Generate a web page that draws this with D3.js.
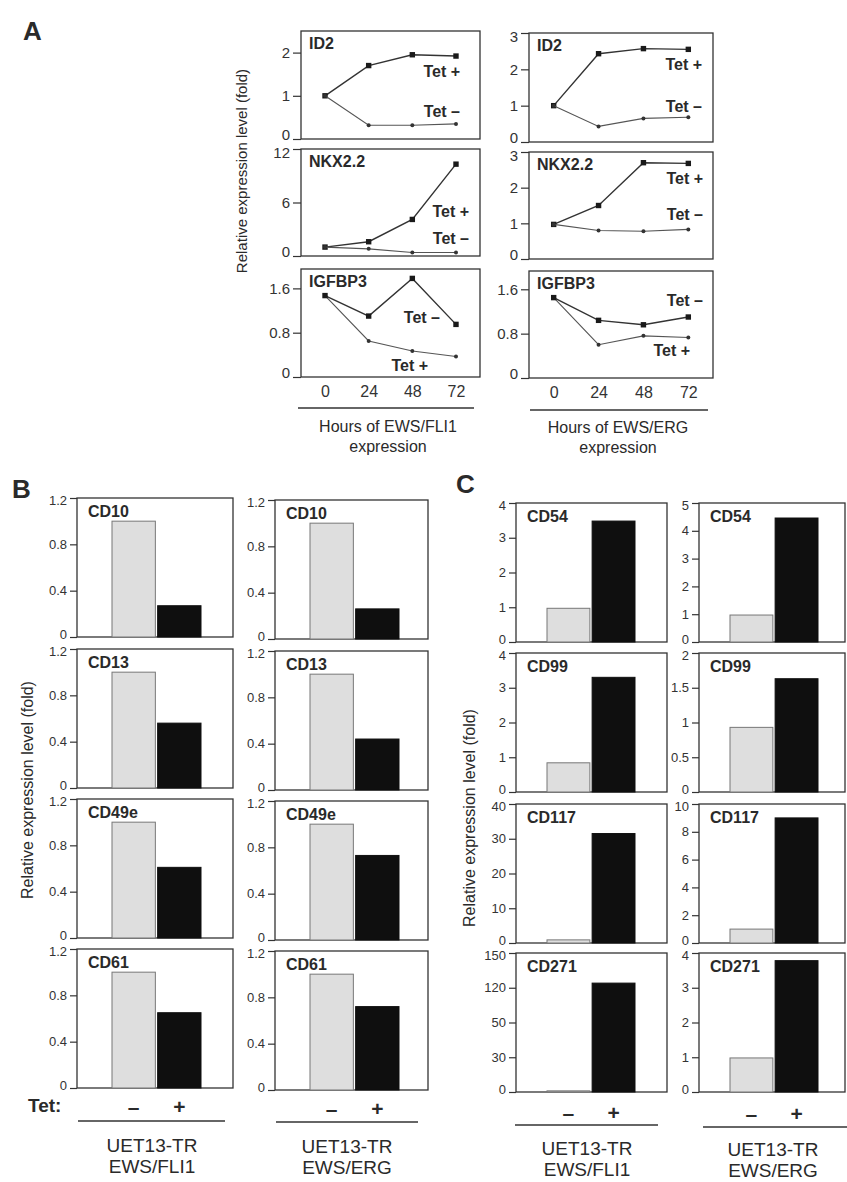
<!DOCTYPE html>
<html>
<head>
<meta charset="utf-8">
<script src="https://cdn.jsdelivr.net/npm/d3@7"></script>
<style>
  body { margin: 0; background: #fff; }
  svg { display: block; }
</style>
</head>
<body>
<svg id="fig" width="847" height="1182"></svg>
<script>
// ---- data ----
const hours = [0, 24, 48, 72];

// panel A, EWS/FLI1
const fliId2Plus = [1, 1.7, 1.95, 1.92];
const fliId2Minus = [1, 0.32, 0.32, 0.35];
const fliNkxPlus = [1, 1.6, 4.1, 10.3];
const fliNkxMinus = [1, 0.8, 0.4, 0.4];
const fliIgfPlus = [1.47, 0.65, 0.47, 0.37];
const fliIgfMinus = [1.47, 1.1, 1.78, 0.95];
// panel A, EWS/ERG
const ergId2Plus = [1, 2.43, 2.57, 2.55];
const ergId2Minus = [1, 0.43, 0.65, 0.68];
const ergNkxPlus = [0.97, 1.5, 2.7, 2.68];
const ergNkxMinus = [0.97, 0.8, 0.78, 0.83];
const ergIgfPlus = [1.45, 0.6, 0.76, 0.73];
const ergIgfMinus = [1.45, 1.04, 0.96, 1.1];

const tetGroups = ['–', '+'];

// panel B
const bMarkers = ['CD10', 'CD13', 'CD49e', 'CD61'];
const bTicks = [0, 0.4, 0.8, 1.2];
const bFliMinus = [1.0, 1.0, 1.0, 1.0];
const bFliPlus = [0.27, 0.56, 0.61, 0.65];
const bErgMinus = [1.0, 1.0, 1.0, 1.0];
const bErgPlus = [0.26, 0.44, 0.73, 0.72];

// panel C
const cMarkers = ['CD54', 'CD99', 'CD117', 'CD271'];
const cFliTicks = [[0, 1, 2, 3, 4], [0, 1, 2, 3, 4], [0, 10, 20, 30, 40], [0, 30, 50, 120, 150]];
const cErgTicks = [[0, 1, 2, 3, 4, 5], [0, 0.5, 1, 1.5, 2], [0, 2, 4, 6, 8, 10], [0, 1, 2, 3, 4]];
const cFliMinus = [0.97, 0.84, 0.9, 1];
const cFliPlus = [3.48, 3.3, 31.5, 124];
const cErgMinus = [0.97, 0.93, 1.0, 0.98];
const cErgPlus = [4.46, 1.63, 9.0, 3.78];

// ---- drawing ----
const font = '"Liberation Sans", Arial, Helvetica, sans-serif';
const ink = '#2a2a2a';
const svg = d3.select('#fig').style('font-family', font);

function txt(x, y, s, size, opts = {}) {
  return svg.append('text')
    .attr('x', x).attr('y', y)
    .attr('font-size', size)
    .attr('font-weight', opts.bold ? 'bold' : 'normal')
    .attr('text-anchor', opts.anchor || 'start')
    .attr('fill', ink)
    .attr('transform', opts.rotate ? `rotate(-90,${x},${y})` : null)
    .text(s);
}

// nudge the end labels so stacked panels don't collide
function styleAxis(ax, size, nudge, topAtEdge) {
  ax.select('.domain').remove();
  ax.selectAll('line').attr('stroke', '#333').attr('stroke-width', 1.2);
  const t = ax.selectAll('text').attr('font-size', size).attr('fill', '#333').attr('font-family', font);
  if (nudge) {
    const n = t.size();
    t.filter((d, i) => i === 0).attr('y', -nudge);
    if (topAtEdge) t.filter((d, i) => i === n - 1).attr('y', nudge);
  }
}

function linePanel(p) {
  const g = svg.append('g');
  const x = d3.scalePoint().domain(hours).range([p.x, p.x + p.w]).padding(0.55);
  const y = d3.scaleLinear().domain([0, p.max]).range([p.y + p.h, p.y]);

  g.append('rect')
    .attr('x', p.x).attr('y', p.y).attr('width', p.w).attr('height', p.h)
    .attr('fill', 'none').attr('stroke', '#333').attr('stroke-width', 1.3);

  const ax = g.append('g').attr('transform', `translate(${p.x},0)`)
    .call(d3.axisLeft(y).tickValues(p.ticks).tickSize(8).tickPadding(3).tickFormat(d3.format('~g')));
  styleAxis(ax, 15, 4, p.ticks[p.ticks.length - 1] === p.max);

  const line = d3.line().x((d, i) => x(hours[i])).y(d => y(d));
  const series = [
    { key: 'plus', vals: p.plus, label: 'Tet +' },
    { key: 'minus', vals: p.minus, label: 'Tet –' }
  ];
  series.forEach(s => {
    const big = p.sq === s.key;
    g.append('path').datum(s.vals)
      .attr('d', line).attr('fill', 'none')
      .attr('stroke', big ? '#333' : '#555').attr('stroke-width', big ? 1.4 : 1.1);
    if (big) {
      g.selectAll(null).data(s.vals).enter().append('rect')
        .attr('x', (d, i) => x(hours[i]) - 2.7).attr('y', d => y(d) - 2.7)
        .attr('width', 5.4).attr('height', 5.4).attr('fill', '#1a1a1a');
    } else {
      g.selectAll(null).data(s.vals).enter().append('circle')
        .attr('cx', (d, i) => x(hours[i])).attr('cy', d => y(d))
        .attr('r', 2).attr('fill', '#333');
    }
    const lab = p.labels[s.key];
    txt(lab[1], y(lab[0]), s.label, 16, { bold: true, anchor: 'end' });
  });

  txt(p.x + 8, p.y + 18, p.name, 16, { bold: true });

  if (p.xAxis) {
    const xa = g.append('g').attr('transform', `translate(0,${p.y + p.h + 6})`)
      .call(d3.axisBottom(x).tickSize(0).tickPadding(0));
    styleAxis(xa, 16);
    xa.selectAll('text').attr('dy', '0.9em');
  }
}

// panel A layout
const aFli = { x: 301, w: 179 };
const aErg = { x: 529, w: 184 };
linePanel({ ...aFli, y: 31, h: 108, name: 'ID2', ticks: [0, 1, 2], max: 2.5,
  plus: fliId2Plus, minus: fliId2Minus, sq: 'plus', labels: { plus: [1.44, 460], minus: [0.51, 460] } });
linePanel({ ...aFli, y: 149, h: 107, name: 'NKX2.2', ticks: [0, 6, 12], max: 12,
  plus: fliNkxPlus, minus: fliNkxMinus, sq: 'plus', labels: { plus: [4.4, 469], minus: [1.4, 469] } });
linePanel({ ...aFli, y: 269, h: 108, name: 'IGFBP3', ticks: [0, 0.8, 1.6], max: 1.95,
  plus: fliIgfPlus, minus: fliIgfMinus, sq: 'minus', labels: { plus: [0.11, 428], minus: [0.98, 440] }, xAxis: true });
linePanel({ ...aErg, y: 33, h: 109, name: 'ID2', ticks: [0, 1, 2, 3], max: 3,
  plus: ergId2Plus, minus: ergId2Minus, sq: 'plus', labels: { plus: [1.97, 702], minus: [0.82, 702] } });
linePanel({ ...aErg, y: 152, h: 107, name: 'NKX2.2', ticks: [0, 1, 2, 3], max: 3,
  plus: ergNkxPlus, minus: ergNkxMinus, sq: 'plus', labels: { plus: [2.1, 703], minus: [1.1, 703] } });
linePanel({ ...aErg, y: 271, h: 107, name: 'IGFBP3', ticks: [0, 0.8, 1.6], max: 1.93,
  plus: ergIgfPlus, minus: ergIgfMinus, sq: 'minus', labels: { plus: [0.4, 690], minus: [1.3, 703] }, xAxis: true });

txt(23, 40, 'A', 26, { bold: true });
txt(247, 171, 'Relative expression level (fold)', 15, { anchor: 'middle', rotate: true });

function rule(x1, x2, y) {
  svg.append('line').attr('x1', x1).attr('x2', x2).attr('y1', y).attr('y2', y)
    .attr('stroke', '#333').attr('stroke-width', 1.6);
}
rule(298, 474, 408);
txt(388, 432, 'Hours of EWS/FLI1', 16, { anchor: 'middle' });
txt(388, 452, 'expression', 16, { anchor: 'middle' });
rule(530, 708, 410);
txt(618, 433, 'Hours of EWS/ERG', 16, { anchor: 'middle' });
txt(618, 453, 'expression', 16, { anchor: 'middle' });

// bar panels
function barPanel(p) {
  const g = svg.append('g');
  const x = d3.scaleBand().domain(tetGroups).range([p.x + p.b0, p.x + p.b1]).paddingInner(0.05);
  const n = p.ticks.length;
  const y = d3.scaleLinear().domain(p.ticks)
    .range(p.ticks.map((t, i) => p.y + p.h - i * p.h / (n - 1)));

  g.append('rect')
    .attr('x', p.x).attr('y', p.y).attr('width', p.w).attr('height', p.h)
    .attr('fill', 'none').attr('stroke', '#333').attr('stroke-width', 1.3);

  g.selectAll(null).data(p.vals).enter().append('rect')
    .attr('x', (d, i) => x(tetGroups[i])).attr('width', x.bandwidth())
    .attr('y', d => y(d)).attr('height', d => y(0) - y(d))
    .attr('fill', (d, i) => i === 0 ? '#dedede' : '#0f0f0f')
    .attr('stroke', (d, i) => i === 0 ? '#777' : '#0f0f0f').attr('stroke-width', 1);

  const ax = g.append('g').attr('transform', `translate(${p.x},0)`)
    .call(d3.axisLeft(y).tickValues(p.ticks).tickSize(7).tickPadding(3).tickFormat(d3.format('~g')));
  styleAxis(ax, 13, 2.5, true);

  txt(p.x + 11, p.y + 19, p.name, 16, { bold: true });
  return x;
}

const bCols = [
  { x: 77, w: 156, dy: 0, minus: bFliMinus, plus: bFliPlus },
  { x: 275, w: 153, dy: 2, minus: bErgMinus, plus: bErgPlus }
];
const bTops = [498, 649, 799, 949];
let bx = [];
bCols.forEach(c => {
  bMarkers.forEach((m, i) => {
    bx.push(barPanel({ x: c.x, w: c.w, y: bTops[i] + c.dy, h: 139, b0: 35, b1: 124,
      name: m, ticks: bTicks, vals: [c.minus[i], c.plus[i]] }));
  });
});

const cCols = [
  { x: 516, w: 151, ticks: cFliTicks, minus: cFliMinus, plus: cFliPlus },
  { x: 699, w: 146, ticks: cErgTicks, minus: cErgMinus, plus: cErgPlus }
];
const cTops = [503, 653, 804, 953];
let cx = [];
cCols.forEach(c => {
  cMarkers.forEach((m, i) => {
    cx.push(barPanel({ x: c.x, w: c.w, y: cTops[i], h: 139, b0: 31, b1: 119,
      name: m, ticks: c.ticks[i], vals: [c.minus[i], c.plus[i]] }));
  });
});

txt(12, 498, 'B', 26, { bold: true });
txt(456, 493, 'C', 26, { bold: true });
txt(33, 790, 'Relative expression level (fold)', 16, { anchor: 'middle', rotate: true });
txt(475, 818, 'Relative expression level (fold)', 16, { anchor: 'middle', rotate: true });

// Tet row and cell line captions
txt(28, 1112, 'Tet:', 19, { bold: true });
const bScaleL = bx[3], bScaleR = bx[7], cScaleL = cx[3], cScaleR = cx[7];
[[bScaleL, 1114], [bScaleR, 1116], [cScaleL, 1120], [cScaleR, 1121]].forEach(([s, yy]) => {
  tetGroups.forEach(t => txt(s(t) + s.bandwidth() / 2, yy, t, 21, { bold: true, anchor: 'middle' }));
});

rule(78, 225, 1121);
rule(276, 418, 1122);
rule(515, 658, 1125);
rule(703, 847, 1127);

const captions = [
  [152, 1152, 'UET13-TR', 'EWS/FLI1'],
  [347, 1153, 'UET13-TR', 'EWS/ERG'],
  [587, 1155, 'UET13-TR', 'EWS/FLI1'],
  [773, 1156, 'UET13-TR', 'EWS/ERG']
];
captions.forEach(([x, y, a, b]) => {
  txt(x, y, a, 19, { anchor: 'middle' });
  txt(x, y + 21, b, 19, { anchor: 'middle' });
});
</script>
</body>
</html>
